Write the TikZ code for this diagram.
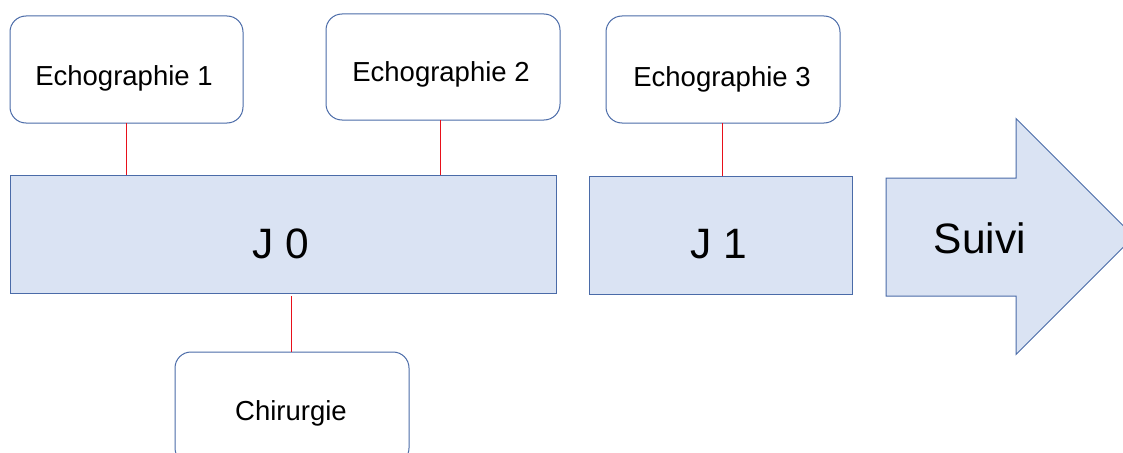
\documentclass[tikz,border=0pt]{standalone}
\usepackage{fontspec}
\setmainfont{Liberation Sans}
\definecolor{boxfill}{HTML}{DAE3F3}
\definecolor{boxline}{HTML}{4A6BA8}
\definecolor{conred}{HTML}{E8101A}
\begin{document}
\begin{tikzpicture}[x=1pt,y=-1pt,
  rbox/.style={draw=boxline, line width=1pt, fill=white, rounded corners=16pt, inner sep=0pt, outer sep=0pt},
  dbox/.style={draw=boxline, line width=1pt, fill=boxfill, inner sep=0pt, outer sep=0pt},
  conn/.style={draw=conred, line width=0.9pt},
  small/.style={font=\fontsize{27.5}{32}\selectfont, inner sep=0pt},
  big/.style={font=\fontsize{42.5}{50}\selectfont, inner sep=0pt}]
\useasboundingbox (0,0) rectangle (1123,452);
\clip (0,0) rectangle (1123,452);
% rounded boxes
\node[rbox, minimum width=233pt, minimum height=107pt] (e1) at (126.5,69.5) {};
\node[rbox, minimum width=234pt, minimum height=106pt] (e2) at (443,67) {};
\node[rbox, minimum width=234pt, minimum height=107pt] (e3) at (723,69.5) {};
\node[rbox, minimum width=234pt, minimum height=112pt] (ch) at (292,408) {};
% blocks
\node[dbox, minimum width=546pt, minimum height=118pt] (j0) at (283,234) {};
\node[dbox, minimum width=263pt, minimum height=118pt] (j1) at (720.5,235) {};
% arrow
\draw[boxline, line width=1pt, fill=boxfill]
  (886,178) -- (1016,178) -- (1016,118.5) -- (1134,236.5) -- (1016,354.5) -- (1016,296) -- (886,296) -- cycle;
% texts
\node[small] (t1) at (124,78) {Echographie 1};
\node[small] (t2) at (441,74) {Echographie 2};
\node[small] (t3) at (722,79) {Echographie 3};
\node[small] (tc) at (291,413) {Chirurgie};
\node[big] (tj0) at (281,244) {J 0};
\node[big] (tj1) at (719,244) {J 1};
\node[big] (ts) at (980,238) {Suivi};
% connectors
\coordinate (c1) at (126,175);
\coordinate (c2) at (440,175);
\coordinate (c3) at (722,176);
\coordinate (c4) at (291,296);
\draw[conn] (e1.south -| c1) -- (c1);
\draw[conn] (e2.south -| c2) -- (c2);
\draw[conn] (e3.south -| c3) -- (c3);
\draw[conn] (c4) -- (ch.north -| c4);
\end{tikzpicture}
\end{document}
